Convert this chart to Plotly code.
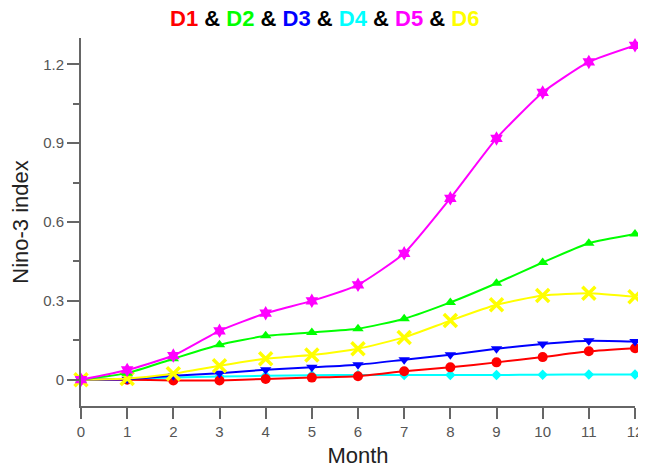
import plotly.graph_objects as go

months = list(range(13))
d1 = [0, 0.0, -0.003, -0.003, 0.003, 0.008, 0.013, 0.032, 0.047, 0.066, 0.086, 0.108, 0.12]
d2 = [0, 0.025, 0.080, 0.133, 0.167, 0.180, 0.194, 0.232, 0.294, 0.367, 0.446, 0.519, 0.554]
d3 = [0, 0.002, 0.015, 0.025, 0.038, 0.047, 0.057, 0.076, 0.095, 0.118, 0.136, 0.148, 0.145]
d4 = [0, 0.003, 0.008, 0.012, 0.015, 0.017, 0.018, 0.018, 0.018, 0.018, 0.019, 0.020, 0.020]
d5 = [0, 0.037, 0.092, 0.186, 0.253, 0.300, 0.361, 0.481, 0.690, 0.918, 1.093, 1.209, 1.272]
d6 = [0, 0.005, 0.023, 0.053, 0.080, 0.094, 0.118, 0.161, 0.225, 0.285, 0.320, 0.329, 0.316]

names = ["D1", "D2", "D3", "D4", "D5", "D6"]
colors = ["#ff0000", "#00ff00", "#0000ff", "#00ffff", "#ff00ff", "#ffff00"]
symbols = ["circle", "triangle-up", "triangle-down", "diamond", "hexagram", "x-thin"]
sizes = [10, 10, 10, 8, 11, 13]
ytick_vals = [0, 0.3, 0.6, 0.9, 1.2]
ytick_text = ["0", "0.3", "0.6", "0.9", "1.2"]

series = [d1, d2, d3, d4, d5, d6]
fig = go.Figure()
order = [3, 0, 2, 5, 1, 4]
for i in order:
    mk = dict(symbol=symbols[i], size=sizes[i], color=colors[i])
    if symbols[i] == "x-thin":
        mk["line"] = dict(color=colors[i], width=3.5)
    fig.add_trace(go.Scatter(
        x=months, y=series[i], name=names[i], mode="lines+markers",
        line=dict(color=colors[i], width=2, shape="spline", smoothing=0.5),
        marker=mk, cliponaxis=False,
    ))

title_html = " <span style='color:black'>&amp;</span> ".join(
    f"<span style='color:{c}'>{n}</span>" for n, c in zip(names, colors))

font_fam = "Liberation Sans, Arial"
axis_common = dict(showline=True, linecolor="#666666", linewidth=2,
                   ticks="outside", tickcolor="#666666", tickwidth=2,
                   showgrid=False, zeroline=False, ticklabeloverflow="allow",
                   tickfont=dict(family=font_fam, size=15, color="#555555"))
fig.update_xaxes(range=[0, 12], tickvals=months, ticklen=11,
                 title=dict(text="Month", font=dict(family=font_fam, size=22, color="#222222"), standoff=9),
                 **axis_common)
fig.update_yaxes(range=[-0.1, 1.3], tickvals=ytick_vals, ticktext=ytick_text, ticklen=12,
                 minor=dict(dtick=0.15, tick0=0, ticks="outside", ticklen=6, tickcolor="#666666", tickwidth=2),
                 title=dict(text="Nino-3 index", font=dict(family=font_fam, size=22, color="#222222"), standoff=10),
                 **axis_common)
fig.update_layout(width=638, height=461, showlegend=False,
                  plot_bgcolor="white", paper_bgcolor="white",
                  title=dict(text=title_html, xref="paper", x=0.44, xanchor="center",
                             yref="container", y=1 - 10 / 461, yanchor="middle",
                             font=dict(family=font_fam, size=22, weight="bold")),
                  margin=dict(l=73, r=11, t=30, b=63, autoexpand=False))
fig.write_html("out.html")
